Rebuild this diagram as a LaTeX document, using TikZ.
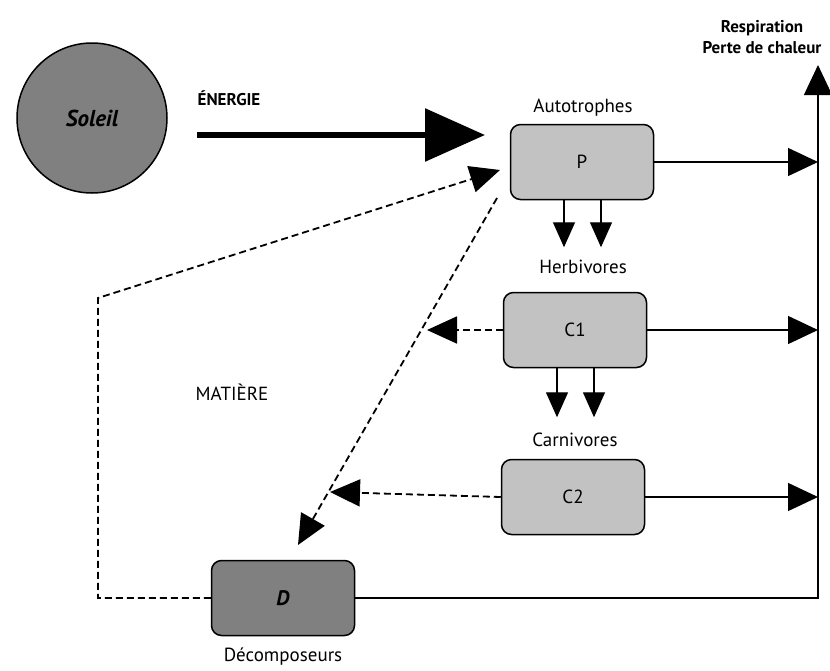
\documentclass[tikz,border=0pt]{standalone}
\usepackage{fontspec}
\setmainfont{PT Sans}
\usetikzlibrary{arrows.meta}
\definecolor{sungray}{gray}{0.50}
\definecolor{boxgray}{gray}{0.76}
\definecolor{dgray}{gray}{0.50}
\tikzset{
  box/.style={draw, line width=1.5pt, rounded corners=10pt, fill=boxgray,
    minimum width=143pt, minimum height=75pt, inner sep=0pt, font=\fontsize{19}{21}\selectfont},
  lbl/.style={font=\fontsize{19}{21}\selectfont, inner sep=0pt},
  blbl/.style={font=\fontsize{17}{21}\selectfont\bfseries, inner sep=0pt, align=center},
  flow/.style={line width=1.4pt, -{Triangle[length=30pt,width=28pt]}},
  downflow/.style={line width=1.4pt, -{Triangle[length=25pt,width=22pt]}},
  dflow/.style={line width=1.8pt, dash pattern=on 7pt off 4pt, -{Triangle[length=30pt,width=27pt]}},
  energy/.style={line width=6pt, -{Triangle[length=60pt,width=52pt]}},
}
\begin{document}
\begin{tikzpicture}[x=1pt,y=-1pt]
\useasboundingbox (0,0) rectangle (830,670);
% nodes
\node[circle, draw, line width=1.5pt, fill=sungray, minimum size=150pt, inner sep=0pt,
  font=\fontsize{23}{25}\selectfont\bfseries\itshape] (sun) at (92,118) {Soleil};
\node[blbl] (energ) at (229,98) {ÉNERGIE};
\node[box] (P) at (582,162) {P};
\node[box] (C1) at (575,330) {C1};
\node[box] (C2) at (573,497) {C2};
\node[box, fill=dgray, font=\fontsize{21}{23}\selectfont\bfseries\itshape] (D) at (283,598) {D};
\node[lbl] (aut) at (583,108) {Autotrophes};
\node[lbl] (herb) at (583,267) {Herbivores};
\node[lbl] (carn) at (575,440) {Carnivores};
\node[lbl] (dec) at (283,657) {Décomposeurs};
\node[lbl] (mat) at (232,392) {MATIÈRE};
\node[blbl] (resp) at (762,37) {Respiration\\Perte de chaleur};
% coordinates
\coordinate (es) at (197,135);
\coordinate (ee) at (485,135);
\coordinate (top) at (818,65);
\coordinate (rx) at (818,0);
\coordinate (ds) at (497,198);
\coordinate (de) at (298,545);
\coordinate (t1) at (427,330);
\coordinate (t2) at (330,492);
\coordinate (lc) at (98,298);
\coordinate (pin) at (500,170);
% energy
\draw[energy] (es) -- (ee);
% respiration
\draw[flow] (D.east) -| (top);
\draw[flow] (P.east) -- (P.east -| rx);
\draw[flow] (C1.east) -- (C1.east -| rx);
\draw[flow] (C2.east) -- (C2.east -| rx);
% trophic transfers
\draw[downflow] ([xshift=-18pt]P.south) -- ++(0,47);
\draw[downflow] ([xshift=19pt]P.south) -- ++(0,47);
\draw[downflow] ([xshift=-18pt]C1.south) -- ++(0,49);
\draw[downflow] ([xshift=19pt]C1.south) -- ++(0,49);
% matter
\draw[dflow] (C1.west) -- (t1);
\draw[dflow] (C2.west) -- (t2);
\draw[dflow] (ds) -- (de);
\draw[dflow] (D.west) -| (lc) -- (pin);
\end{tikzpicture}
\end{document}
